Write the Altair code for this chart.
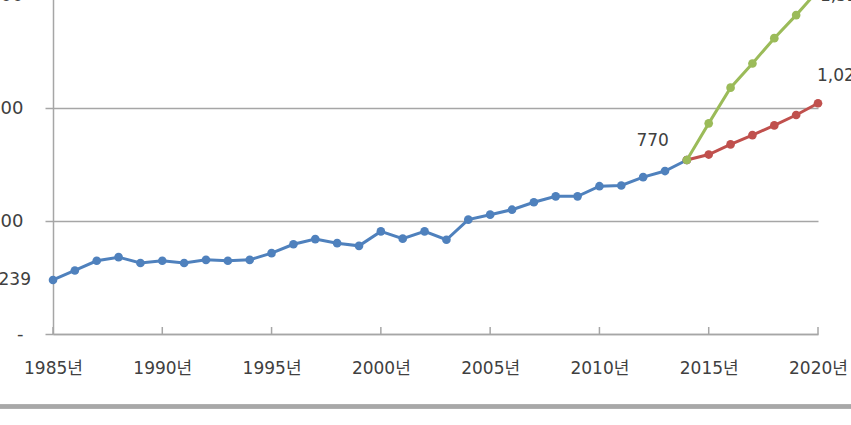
import altair as alt
import pandas as pd

# Observed series, 1985-2014
obs_years = list(range(1985, 2015))
obs_values = [239, 281, 324, 340, 314, 324, 314, 328, 324, 328,
              358, 397, 420, 402, 390, 454, 422, 454, 417, 506,
              528, 550, 583, 609, 609, 654, 657, 694, 721, 770]

# Projection scenarios, 2014-2020
proj_years = list(range(2014, 2021))
low_values = [770, 794, 839, 880, 923, 969, 1021]
high_values = [770, 932, 1090, 1197, 1309, 1411, 1520]

series_names = ["실적", "전망(저)", "전망(고)"]
series_colors = ["#4F81BD", "#C0504D", "#9BBB59"]

tick_years = list(range(1985, 2021, 5))
y_ticks = [0, 500, 1000, 1500]

rows = []
for yr, v in zip(obs_years, obs_values):
    rows.append({"series": series_names[0], "year": yr, "value": v})
for yr, v in zip(proj_years, low_values):
    rows.append({"series": series_names[1], "year": yr, "value": v})
for yr, v in zip(proj_years, high_values):
    rows.append({"series": series_names[2], "year": yr, "value": v})
df = pd.DataFrame(rows)

FONT = "DejaVu Sans, Noto Sans CJK KR"
TEXT = "#404040"
GRID = "#A6A6A6"

x_scale = alt.Scale(domain=[1985, 2020], nice=False, zero=False)
y_scale = alt.Scale(domain=[0, 1500], nice=False)

x_enc = alt.X("year:Q", scale=x_scale,
              axis=alt.Axis(values=tick_years, labelExpr="datum.value + '년'",
                            title=None, grid=False, ticks=False, tickSize=0,
                            labelPadding=26, labelFontSize=17, labelFont=FONT,
                            labelColor=TEXT, domainColor=GRID, domainWidth=1.5,
                            labelFlush=False))
y_enc = alt.Y("value:Q", scale=y_scale,
              axis=alt.Axis(values=y_ticks,
                            labelExpr="datum.value == 0 ? '-' : format(datum.value, ',')",
                            title=None, grid=True, gridColor=GRID, gridWidth=1.5,
                            tickSize=8, tickColor=GRID, tickWidth=1.5,
                            labelPadding=22, labelFontSize=18, labelFont=FONT,
                            labelColor=TEXT, domainColor=GRID, domainWidth=1.5))

color_enc = alt.Color("series:N",
                      scale=alt.Scale(domain=series_names, range=series_colors),
                      legend=None)

base = alt.Chart(df)

# each series as its own layer so the later ones sit on top
series_layers = []
for name in series_names:
    series_layers.append(
        base.transform_filter(alt.datum.series == name)
        .mark_line(strokeWidth=3, clip=False,
                   point=alt.OverlayMarkDef(filled=True, size=75, opacity=1,
                                            shape="circle"))
        .encode(x=x_enc, y=y_enc, color=color_enc)
    )

# small inward tick marks on the x axis
tick_df = pd.DataFrame({"year": tick_years})
x_ticks = alt.Chart(tick_df).mark_rule(color=GRID, strokeWidth=1.5).encode(
    x=alt.X("year:Q", scale=x_scale),
    y=alt.datum(0),
    y2=alt.datum(31),
)

def value_label(year, value, align, dx, dy):
    lab = pd.DataFrame({"year": [year], "value": [value]})
    return alt.Chart(lab).mark_text(
        align=align, baseline="middle", dx=dx, dy=dy,
        fontSize=17, font=FONT, color=TEXT, clip=False
    ).transform_calculate(
        txt="format(datum.value, ',')"
    ).encode(
        x=alt.X("year:Q", scale=x_scale),
        y=alt.Y("value:Q", scale=y_scale),
        text="txt:N",
    )

labels = [
    value_label(obs_years[0], obs_values[0], "right", -22, 0),
    value_label(obs_years[-1], obs_values[-1], "right", -18, -19),
    value_label(proj_years[-1], low_values[-1], "left", -1, -27),
    value_label(proj_years[-1], high_values[-1], "left", 2, 6),
]

# page separator line below the chart
separator = alt.Chart(tick_df).mark_rule(color="#A8A8A8", strokeWidth=3.5).encode(
    x=alt.value(-53), x2=alt.value(800), y=alt.value(411.5)
)

chart = alt.layer(
    x_ticks, *series_layers, *labels, separator
).properties(
    width=765, height=339,
    padding={"left": 53, "top": -5, "right": 33, "bottom": 91},
    autosize=alt.AutoSizeParams(type="none"),
    background="white",
).configure_view(stroke=None)

chart.save("out.html", embed_options={"renderer": "svg", "actions": False})
